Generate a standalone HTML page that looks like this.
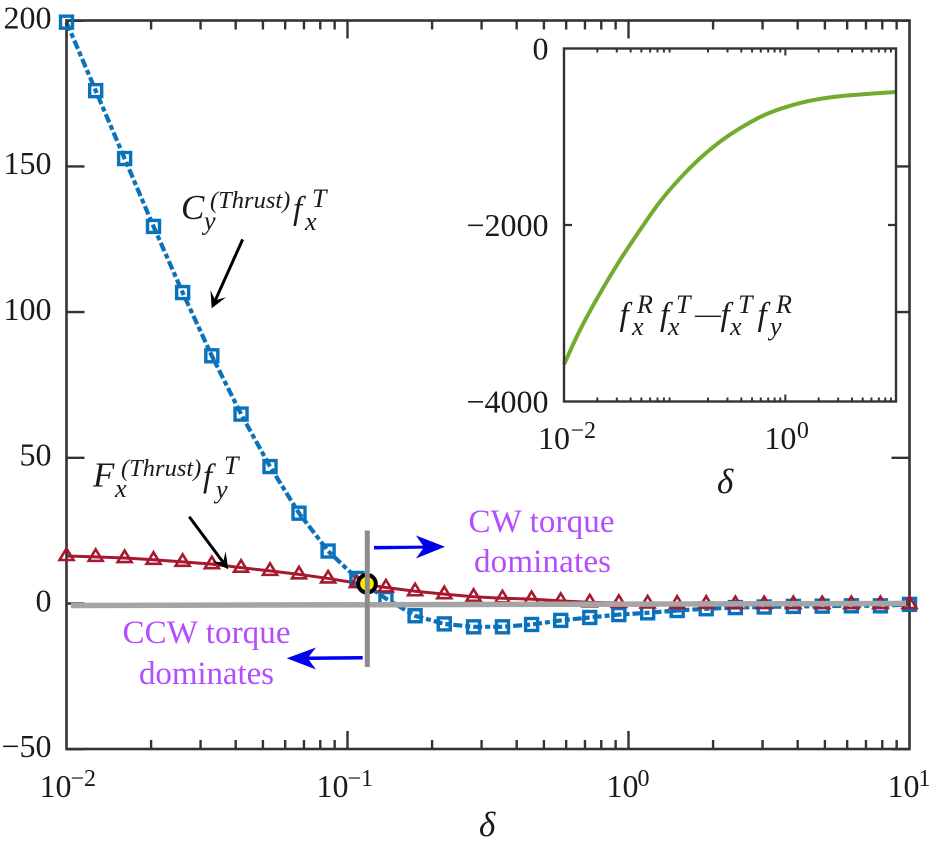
<!DOCTYPE html>
<html lang="en">
<head>
<meta charset="utf-8">
<title>Torque balance chart</title>
<style>
html,body{margin:0;padding:0;background:#fff;}
svg{display:block;font-family:"Liberation Serif",serif;}
text{fill:#1a1a1a;}
.tick{font-size:32px;}
.sup{font-size:24px;}
.ann{font-style:italic;}
.purple{fill:#b44cff;font-size:33px;}
</style>
</head>
<body>
<svg id="chart" xmlns="http://www.w3.org/2000/svg" width="932" height="845" viewBox="0 0 932 845">
  <rect x="0" y="0" width="932" height="845" fill="#fff"/>
  <g id="main-ticks"></g>
  <g id="main-marks"></g>
  <rect x="66.5" y="20.5" width="843" height="728.5" fill="none" stroke="#333" stroke-width="2.6"/>
  <g id="main-markers"></g>

  <path d="M71 605.5 L906 603.4" stroke="#a5a5a5" stroke-width="5.5" fill="none"/>
  <circle cx="367" cy="583.7" r="8.8" fill="#ffec00" stroke="#000" stroke-width="4"/>
  <path d="M367.3 530.5 L367.3 667" stroke="#8c8c8c" stroke-width="5" fill="none"/>

  <g transform="translate(211.7,308.3) rotate(114.2)">
    <path d="M-75.6 -1.5 L-10 -1.5 L-16 -8.5 L0 0 L-16 8.5 L-10 1.5 L-75.6 1.5 Z" fill="#000"/>
  </g>
  <g transform="translate(228.3,569.3) rotate(53.4)">
    <path d="M-65.5 -1.5 L-10 -1.5 L-16 -8.5 L0 0 L-16 8.5 L-10 1.5 L-65.5 1.5 Z" fill="#000"/>
  </g>
  <path d="M374 545.9 L423 545.6 L416 535.5 L445 546.7 L416 558.5 L423 548.6 L374 549.5 Z" fill="#0000f0"/>
  <path d="M362.7 656 L309 656.5 L316 647.5 L286.7 658.3 L316 669.5 L309 660 L362.7 659.5 Z" fill="#0000f0"/>

  <text class="purple" x="468.5" y="532" textLength="146" lengthAdjust="spacing">CW torque</text>
  <text class="purple" x="474" y="572" textLength="137" lengthAdjust="spacing">dominates</text>
  <text class="purple" x="122.5" y="643" textLength="168" lengthAdjust="spacing">CCW torque</text>
  <text class="purple" x="139" y="684" textLength="135" lengthAdjust="spacing">dominates</text>

  <g class="ann">
    <text x="181" y="219" font-size="35">C</text>
    <text x="204" y="229.5" font-size="26">y</text>
    <text x="210" y="208" font-size="24.5">(Thrust)</text>
    <text x="293" y="219" font-size="33">f</text>
    <text x="312" y="207" font-size="26">T</text>
    <text x="305" y="230" font-size="26">x</text>
  </g>
  <g class="ann">
    <text x="93" y="486.5" font-size="35">F</text>
    <text x="115" y="497" font-size="26">x</text>
    <text x="121" y="476" font-size="24.5">(Thrust)</text>
    <text x="203" y="486.5" font-size="33">f</text>
    <text x="224" y="474" font-size="26">T</text>
    <text x="216" y="498" font-size="26">y</text>
  </g>

  <rect x="564" y="48.5" width="332" height="353" fill="#fff"/>
  <g id="inset-ticks"></g>
  <g id="inset-marks"></g>
  <rect x="564" y="48.5" width="332" height="353" fill="none" stroke="#333" stroke-width="2.4"/>

  <g class="ann">
    <text x="619.5" y="325" font-size="33">f</text>
    <text x="637" y="313" font-size="26">R</text>
    <text x="632" y="335" font-size="26">x</text>
    <text x="660" y="325" font-size="33">f</text>
    <text x="676" y="313" font-size="26">T</text>
    <text x="668" y="335" font-size="26">x</text>
    <text x="695" y="322.5" font-size="26" style="font-style:normal">—</text>
    <text x="720.5" y="325" font-size="33">f</text>
    <text x="738" y="313" font-size="26">T</text>
    <text x="730" y="335" font-size="26">x</text>
    <text x="757.5" y="325" font-size="33">f</text>
    <text x="776" y="313" font-size="26">R</text>
    <text x="770" y="335" font-size="26">y</text>
  </g>

  <text class="ann" x="479" y="836" font-size="35">δ</text>
  <text class="ann" x="717" y="493" font-size="35">δ</text>
</svg>

<script>
const SVG_NS = 'http://www.w3.org/2000/svg';

const delta = [0.01, 0.0127, 0.0161, 0.0204, 0.0259, 0.0329, 0.0418, 0.053, 0.0672, 0.0853,
  0.108, 0.137, 0.174, 0.221, 0.281, 0.356, 0.452, 0.574, 0.728, 0.924,
  1.17, 1.49, 1.89, 2.4, 3.04, 3.86, 4.89, 6.21, 7.88, 10];
const cyThrustFxT = [199.5, 176, 152.7, 129.4, 106.7, 85, 65, 47, 31, 18,
  8.6, 1.7, -4.2, -7, -8, -8, -7.2, -5.8, -4.8, -3.8,
  -3.2, -2.4, -1.8, -1.4, -1.2, -1, -0.9, -0.8, -0.8, -0.3];
const fxThrustFyT = [16.3, 16, 15.6, 15, 14.3, 13.5, 12.3, 11.2, 10, 8.6,
  7, 5.5, 4.2, 3.2, 2.3, 1.8, 1.5, 0.9, 0.4, 0.2,
  0, -0.1, -0.1, -0.2, -0.2, -0.2, -0.2, -0.2, -0.2, -0.2];
const mainYTicks = [200, 150, 100, 50, 0, -50];
const mainYTickLabels = ['200', '150', '100', '50', '0', '−50'];
const mainXDecades = [-2, -1, 0, 1];
const mainXDecadeLabels = ['−2', '−1', '0', '1'];

const insetDelta = [0.01, 0.01395, 0.02115, 0.03208, 0.04862, 0.0737, 0.1117, 0.1694, 0.2568, 0.3893, 0.6785, 1.357, 2.696, 5.43, 10];
const insetValues = [-3581, -3190, -2774, -2397, -2057, -1736, -1471, -1244, -1056, -904, -742, -618, -550, -516, -493];
const insetYTicks = [0, -2000, -4000];
const insetYTickLabels = ['0', '−2000', '−4000'];
const insetXDecades = [-2, 0];
const insetXDecadeLabels = ['−2', '0'];
const insetMinorDecades = [-2, -1, 0];

function mx(d) { return 66.5 + (Math.log10(d) + 2) * 281; }
function my(v) { return 603.5 - v * 2.914; }
function ix(d) { return 564 + (Math.log10(d) + 2) * 110.67; }
function iy(v) { return 48.5 - v * 0.08825; }

function make(tag, parent, attrs, txt) {
  const el = document.createElementNS(SVG_NS, tag);
  for (const k in attrs) el.setAttribute(k, attrs[k]);
  if (txt !== undefined) el.textContent = txt;
  parent.appendChild(el);
  return el;
}

const mainTicks = document.getElementById('main-ticks');
const mainMarks = document.getElementById('main-marks');
const mainMarkers = document.getElementById('main-markers');
const insetTicks = document.getElementById('inset-ticks');
const insetMarks = document.getElementById('inset-marks');
const svgRoot = document.getElementById('chart');

mainYTicks.forEach(function (v, i) {
  const y = my(v);
  const l = make('path', mainTicks, {d: 'M66.5 ' + y + 'H84.5M909.5 ' + y + 'H891.5', stroke: '#333', 'stroke-width': 2.4, fill: 'none'});
  
  
  const t = make('text', svgRoot, {class: 'tick', x: 51.5, y: y + 7.8, 'text-anchor': 'end'}, mainYTickLabels[i]);
  
  
});

mainXDecades.forEach(function (e, i) {
  const x = mx(Math.pow(10, e));
  if (e > -2 && e < 1) {
    const l = make('path', mainTicks, {d: 'M' + x + ' 749V731M' + x + ' 20.5V38.5', stroke: '#333', 'stroke-width': 2.4, fill: 'none'});
    
    
  }
  if (e < 1) {
    [2, 3, 4, 5, 6, 7, 8, 9].forEach(function (m) {
      const xm = mx(m * Math.pow(10, e));
      const lm = make('path', mainTicks, {d: 'M' + xm + ' 749V740M' + xm + ' 20.5V29.5', stroke: '#333', 'stroke-width': 2.4, fill: 'none'});
      
      
    });
  }
  const baseOffset = e === -2 ? -27 : (e === -1 ? -31 : -22);
  const base = make('text', svgRoot, {class: 'tick', x: x + baseOffset, y: 797}, '10');
  
  
  const sup = make('text', svgRoot, {class: 'sup', x: x + baseOffset + 31, y: 786}, mainXDecadeLabels[i]);
  
  
});

function linePath(xs, ys, fx, fy) {
  return xs.map(function (d, i) { return (i ? 'L' : 'M') + fx(d).toFixed(2) + ' ' + fy(ys[i]).toFixed(2); }).join(' ');
}

const blueLine = make('path', mainMarks, {d: linePath(delta, cyThrustFxT, mx, my), fill: 'none', stroke: '#0a72ba', 'stroke-width': 4.2, 'stroke-dasharray': '9 3 5 3'});


const redLine = make('path', mainMarks, {d: linePath(delta, fxThrustFyT, mx, my), fill: 'none', stroke: '#a6192e', 'stroke-width': 3});



delta.forEach(function (d, i) {
  const s = make('rect', mainMarkers, {x: mx(d) - 6, y: my(cyThrustFxT[i]) - 6, width: 12, height: 12, fill: 'none', stroke: '#0a72ba', 'stroke-width': 3.4});
  
  
});
delta.forEach(function (d, i) {
  const x = mx(d), y = my(fxThrustFyT[i]);
  const p = make('path', mainMarkers, {d: 'M' + x + ' ' + (y - 7.5) + 'L' + (x + 7) + ' ' + (y + 4) + 'L' + (x - 7) + ' ' + (y + 4) + 'Z', fill: 'none', stroke: '#a6192e', 'stroke-width': 2.6});
  
  
});

insetYTicks.forEach(function (v, i) {
  const y = iy(v);
  if (v === -2000) {
    const l = make('path', insetTicks, {d: 'M564 ' + y + 'H572M896 ' + y + 'H888', stroke: '#333', 'stroke-width': 2.2, fill: 'none'});
    
    
  }
  const t = make('text', svgRoot, {class: 'tick', x: 548.5, y: y + 11, 'text-anchor': 'end'}, insetYTickLabels[i]);
  
  
});

insetMinorDecades.forEach(function (e) {
  [2, 3, 4, 5, 6, 7, 8, 9].forEach(function (m) {
    const x = ix(m * Math.pow(10, e));
    const lm = make('path', insetTicks, {d: 'M' + x + ' 401.5V397.5M' + x + ' 48.5V52.5', stroke: '#333', 'stroke-width': 2, fill: 'none'});
    
    
  });
});

insetXDecades.forEach(function (e, i) {
  const x = ix(Math.pow(10, e));
  if (e === 0) {
    const l = make('path', insetTicks, {d: 'M' + x + ' 401.5V394.5M' + x + ' 48.5V55.5', stroke: '#333', 'stroke-width': 2, fill: 'none'});
    
    
  }
  const baseOffset = e < 0 ? -26 : -21;
  const base = make('text', svgRoot, {class: 'tick', x: x + baseOffset, y: 449}, '10');
  
  
  const sup = make('text', svgRoot, {class: 'sup', x: x + baseOffset + 32.5, y: 438}, insetXDecadeLabels[i]);
  
  
});

function smoothPath(xs, ys, fx, fy) {
  const px = xs.map(fx), py = ys.map(fy);
  let d = 'M' + px[0].toFixed(2) + ' ' + py[0].toFixed(2);
  for (let i = 0; i < px.length - 1; i++) {
    const a = Math.max(i - 1, 0), b = Math.min(i + 2, px.length - 1);
    d += ' C' + (px[i] + (px[i + 1] - px[a]) / 6).toFixed(2) + ' ' + (py[i] + (py[i + 1] - py[a]) / 6).toFixed(2) + ' ' +
      (px[i + 1] - (px[b] - px[i]) / 6).toFixed(2) + ' ' + (py[i + 1] - (py[b] - py[i]) / 6).toFixed(2) + ' ' +
      px[i + 1].toFixed(2) + ' ' + py[i + 1].toFixed(2);
  }
  return d;
}

const greenLine = make('path', insetMarks, {d: smoothPath(insetDelta, insetValues, ix, iy), fill: 'none', stroke: '#72ab2e', 'stroke-width': 4});


</script>
</body>
</html>
